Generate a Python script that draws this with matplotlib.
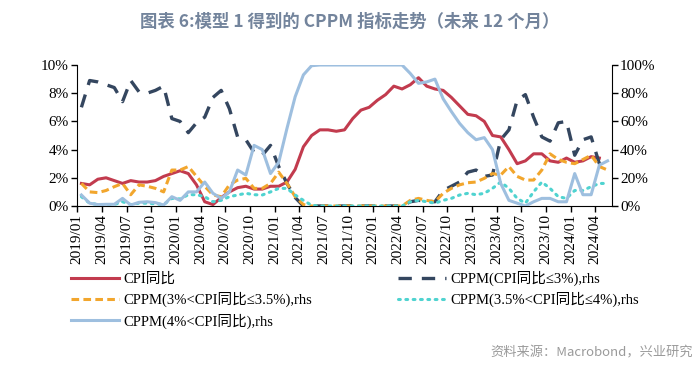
import matplotlib
matplotlib.use('Agg')
import matplotlib.pyplot as plt
import pandas as pd

# 数据 (月度, 2019/01 起)
cpi = [1.6, 1.5, 1.9, 2.0, 1.8, 1.6, 1.8, 1.7, 1.7, 1.8, 2.1, 2.3,
       2.5, 2.3, 1.5, 0.3, 0.1, 0.6, 1.0, 1.3, 1.4, 1.2, 1.2, 1.4,
       1.4, 1.7, 2.6, 4.2, 5.0, 5.4, 5.4, 5.3, 5.4, 6.2, 6.8, 7.0,
       7.5, 7.9, 8.5, 8.3, 8.6, 9.1, 8.5, 8.3, 8.2, 7.7, 7.1, 6.5,
       6.4, 6.0, 5.0, 4.9, 4.0, 3.0, 3.2, 3.7, 3.7, 3.2, 3.1, 3.4,
       3.1, 3.2, 3.5, 3.4]
p_le3 = [70, 89, 88, 86, 84, 74, 89, 81, 80, 82, 85, 62,
         60, 52, 59, 63, 77, 82, 69, 49, 47, 38, 36, 43,
         28, 16, 6, 0, 0, 0, 0, 0, 0, 0, 0, 0,
         0, 0, 0, 0, 3, 4, 3.5, 3, 11, 14, 17, 24,
         25.5, 21, 22, 47, 54, 75, 79, 63, 49, 46, 59, 60,
         36, 47, 49, 30, 25.5]
p_3_35 = [16, 10, 9.5, 11, 13.7, 16, 8, 15, 14, 12.5, 10, 25.5,
          25.5, 28, 21, 14, 7.8, 6.6, 15, 18.4, 19.6, 12.5, 12.5, 16,
          24, 16, 6.6, 1, 0, 0, 0, 0, 0, 0, 0, 0,
          0, 0, 0, 0, 4, 5.4, 4, 3, 9, 12.5, 15, 16.5,
          17, 19.6, 23, 22, 28, 21, 18.4, 18.4, 25.5, 37, 33, 31,
          30, 33, 36, 28, 25.5]
p_35_4 = [6.6, 2, 1, 1, 1, 3, 1, 2, 2, 1.5, 1, 5.4,
          5, 8, 8, 6.6, 3, 4, 6.6, 7.8, 9, 8, 7.8, 10,
          12.5, 12.5, 7.8, 4, 0.5, 0, 0, 0, 0, 0, 0, 0,
          0, 0, 0, 0, 3, 4, 3, 2, 4, 5.4, 7.8, 9,
          8, 9, 12.5, 17, 12.5, 5.4, 2, 10, 17, 12.5, 6.6, 5.4,
          11, 11, 13.7, 16, 16]
p_gt4 = [7.8, 2, 1, 1.2, 1.2, 5.4, 0.7, 2.6, 3, 2.4, 0.7, 6.6,
         4, 10, 10, 17, 9, 5.4, 10, 25.5, 22, 43, 40, 23,
         31, 55, 77.5, 93, 99.5, 100, 100, 100, 100, 100, 100, 100,
         100, 100, 100, 100, 94, 87, 88, 90, 76, 67, 58.6, 52,
         47, 48.5, 40, 16, 4, 2, 0, 3, 5.4, 5.4, 3, 3,
         23, 8, 8, 29, 32]

x_cpi = [i + 0.5 for i in range(len(cpi))]
x_p = [i + 0.5 for i in range(len(p_le3))]
tick_pos = list(range(0, 64, 3))
tick_labels = [d.strftime('%Y/%m') for d in pd.date_range('2019-01-01', periods=22, freq='3MS')]

serif = ['Liberation Serif', 'Noto Sans CJK SC']
plt.rcParams['font.family'] = serif

fig = plt.figure(figsize=(7, 3.69), dpi=100)
ax = fig.add_axes([77.3 / 700, 1 - 206 / 369, (611.7 - 77.3) / 700, (206 - 65) / 369])
ax2 = ax.twinx()

l1, = ax.plot(x_cpi, cpi, color='#c23b4e', lw=2.2, label='CPI同比')
l2, = ax2.plot(x_p, p_le3, color='#34465f', lw=2.4, dashes=(4, 3), label='CPPM(CPI同比≤3%),rhs')
l3, = ax2.plot(x_p, p_3_35, color='#f2a62d', lw=2.2, dashes=(2.5, 1.4), label='CPPM(3%<CPI同比≤3.5%),rhs')
l4, = ax2.plot(x_p, p_35_4, color='#4fd3d0', lw=2.2, dashes=(0.6, 1.8), dash_capstyle='round',
               label='CPPM(3.5%<CPI同比≤4%),rhs')
l5, = ax2.plot(x_p, p_gt4, color='#9ebfdf', lw=2.2, label='CPPM(4%<CPI同比),rhs')

ax.set_xlim(0, 65)
ax.set_ylim(0, 10)
ax2.set_ylim(0, 100)
ax.set_yticks(range(0, 11, 2))
ax.set_yticklabels([f'{v}%' for v in range(0, 11, 2)])
ax2.set_yticks(range(0, 101, 20))
ax2.set_yticklabels([f'{v}%' for v in range(0, 101, 20)])
ax.set_xticks(tick_pos)
ax.set_xticklabels(tick_labels, rotation=90)

for a in (ax, ax2):
    a.spines['top'].set_visible(False)
    a.tick_params(labelsize=11, length=4, width=1, colors='black', pad=2)
ax.spines['right'].set_visible(False)
ax2.spines['left'].set_visible(False)
ax2.spines['bottom'].set_visible(False)

fig.legend(handles=[l1, l3, l5, l2, l4], loc='upper left', bbox_to_anchor=(65 / 700, 1 - 265 / 369),
           ncol=2, frameon=False, fontsize=10.5, handlelength=3.3, handletextpad=0.3,
           columnspacing=5.9, labelspacing=0.42, borderaxespad=0)

fig.text(0.5, 1 - 22 / 369, '图表 6:模型 1 得到的 CPPM 指标走势（未来 12 个月）', ha='center', va='center',
         fontsize=12.5, fontweight='bold', color='#73849c', family=['Noto Sans CJK SC', 'DejaVu Sans'])
fig.text(693 / 700, 1 - 353 / 369, '资料来源：Macrobond，兴业研究', ha='right', va='center',
         fontsize=9.5, color='#9a9a9a', family=['Noto Sans CJK SC', 'DejaVu Sans'])

fig.savefig('out.png', dpi=100)
